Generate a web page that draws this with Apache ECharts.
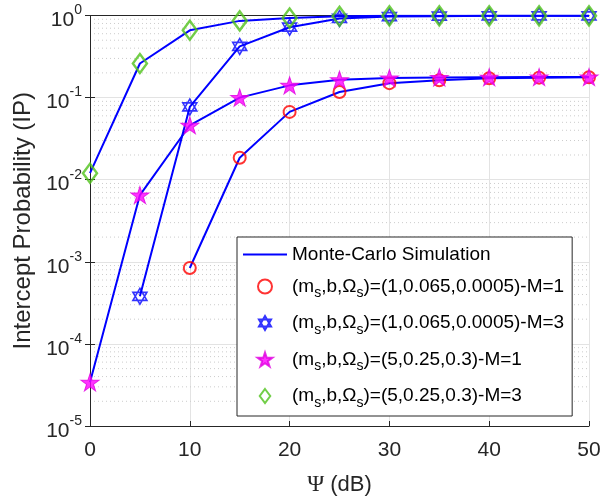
<!DOCTYPE html>
<html>
<head>
<meta charset="utf-8">
<script src="https://cdn.jsdelivr.net/npm/echarts@6/dist/echarts.min.js"></script>
<style>
  html, body { margin: 0; padding: 0; background: #fff; }
  #chart { width: 615px; height: 502px; }
</style>
</head>
<body>
<div id="chart"></div>
<script>
// x values (dB)
const psi = [0, 5, 10, 15, 20, 25, 30, 35, 40, 45, 50]

// intercept probability per case (null = not plotted)
const ipCircle = [null, null, 8.4e-4, 0.0185, 0.067, 0.117, 0.15, 0.163, 0.172, 0.175, 0.177]
const ipHexagram = [null, 3.8e-4, 0.077, 0.42, 0.72, 0.92, 0.97, 0.98, 0.99, 0.99, 0.99]
const ipStar = [3.4e-5, 6.5e-3, 0.046, 0.10, 0.141, 0.165, 0.173, 0.176, 0.177, 0.178, 0.178]
const ipDiamond = [0.012, 0.26, 0.66, 0.86, 0.93, 0.98, 0.99, 0.99, 0.99, 0.99, 0.99]

const simName = 'Monte-Carlo Simulation'
const caseNames = [
  '(m_s,b,Ω_s)=(1,0.065,0.0005)-M=1',
  '(m_s,b,Ω_s)=(1,0.065,0.0005)-M=3',
  '(m_s,b,Ω_s)=(5,0.25,0.3)-M=1',
  '(m_s,b,Ω_s)=(5,0.25,0.3)-M=3'
]

const font = 'Liberation Sans'
const axisColor = '#262626'

const hexagram = 'path://M0,-10L8.66,5L-8.66,5Z M0,10L8.66,-5L-8.66,-5Z'
const pentagram = 'path://M0,-10L2.245,-3.09L9.511,-3.09L3.633,1.18L5.878,8.09L0,3.82L-5.878,8.09L-3.633,1.18L-9.511,-3.09L-2.245,-3.09Z'
const diamond = 'path://M0,-10L7.5,0L0,10L-7.5,0Z'

const pairs = (ys) => psi.map((x, i) => [x, ys[i]])

// minor grid lines at 2..9 of every decade
const minorGrid = []
for (let e = -5; e < 0; e++) {
  for (let k = 2; k <= 9; k++) {
    minorGrid.push([0, k * Math.pow(10, e)])
  }
}

const simLine = (ys) => ({
  name: simName,
  type: 'line',
  data: pairs(ys),
  symbol: 'none',
  lineStyle: { color: '#0000ff', width: 2 },
  itemStyle: { color: '#0000ff' },
  z: 2
})

const marks = (name, ys, symbol, size, style) => ({
  name: name,
  type: 'scatter',
  data: pairs(ys),
  symbol: symbol,
  symbolSize: size,
  itemStyle: style,
  z: 3
})

const chart = echarts.init(document.getElementById('chart'))

chart.setOption({
  animation: false,
  backgroundColor: '#fff',
  grid: { left: 90, right: 26, top: 9, bottom: 76 },
  legend: {
    orient: 'vertical',
    left: 237,
    top: 237,
    data: [{ name: simName, icon: 'path://M0,0L44,0L44,2L0,2Z' }].concat(caseNames),
    itemWidth: 44,
    itemHeight: 14,
    itemGap: 13,
    padding: [8, 8, 6, 6],
    backgroundColor: '#fff',
    borderColor: '#262626',
    borderWidth: 1,
    formatter: (name) => name.replace(/_s/g, '{sub|s}'),
    textStyle: {
      fontFamily: font,
      fontSize: 19,
      color: '#000',
      rich: {
        sub: { fontFamily: font, fontSize: 14, padding: [14, 0, 0, 0], color: '#000' }
      }
    }
  },
  xAxis: [
    {
      type: 'value',
      min: 0,
      max: 50,
      interval: 10,
      name: '{psi|Ψ} (dB)',
      nameLocation: 'middle',
      nameGap: 47,
      nameTextStyle: {
        fontFamily: font,
        fontSize: 22,
        color: axisColor,
        rich: { psi: { fontFamily: 'Liberation Serif', fontSize: 23, color: axisColor } }
      },
      axisLine: { lineStyle: { color: axisColor, width: 1 } },
      axisTick: { inside: true, length: 5, lineStyle: { color: axisColor } },
      axisLabel: { fontFamily: font, fontSize: 21, color: axisColor, margin: 14 },
      splitLine: { show: true, lineStyle: { color: '#e3e3e3', width: 1 } }
    },
    {
      type: 'value',
      position: 'top',
      min: 0,
      max: 50,
      interval: 10,
      axisLine: { show: true, lineStyle: { color: axisColor, width: 1 } },
      axisTick: { show: false },
      axisLabel: { show: false },
      splitLine: { show: false }
    }
  ],
  yAxis: [
    {
      type: 'log',
      logBase: 10,
      min: 1e-5,
      max: 1,
      name: 'Intercept Probability (IP)',
      nameLocation: 'middle',
      nameGap: 54,
      nameTextStyle: { fontFamily: font, fontSize: 24, color: axisColor },
      axisLine: { show: true, lineStyle: { color: axisColor, width: 1 } },
      axisTick: { show: true, inside: true, length: 5, lineStyle: { color: axisColor } },
      axisLabel: {
        margin: 8,
        formatter: (v) => '{b|10}{sup|' + Math.round(Math.log10(v)) + '}',
        rich: {
          b: { fontFamily: font, fontSize: 21, color: axisColor, lineHeight: 21, padding: [10, 0, 0, 0] },
          sup: { fontFamily: font, fontSize: 14, color: axisColor, lineHeight: 14, padding: [0, 0, 10, 0] }
        }
      },
      splitLine: { show: true, lineStyle: { color: '#e3e3e3', width: 1 } }
    },
    {
      type: 'log',
      logBase: 10,
      min: 1e-5,
      max: 1,
      position: 'right',
      axisLine: { show: true, lineStyle: { color: axisColor, width: 1 } },
      axisTick: { show: true, inside: true, length: 5, lineStyle: { color: axisColor } },
      axisLabel: { show: false },
      splitLine: { show: false }
    }
  ],
  series: [
    {
      type: 'custom',
      silent: true,
      z: 0,
      data: minorGrid,
      encode: { x: 0, y: 1 },
      renderItem: (params, api) => {
        const v = api.value(1)
        const a = api.coord([0, v])
        const b = api.coord([50, v])
        return {
          type: 'line',
          shape: { x1: a[0], y1: a[1], x2: b[0], y2: b[1] },
          style: { stroke: '#cccccc', lineWidth: 1, lineDash: [1, 3] }
        }
      }
    },
    simLine(ipCircle),
    simLine(ipHexagram),
    simLine(ipStar),
    simLine(ipDiamond),
    marks(caseNames[0], ipCircle, 'circle', 12,
      { color: 'rgba(255,255,255,0)', borderColor: '#ff0000', borderWidth: 2 }),
    marks(caseNames[1], ipHexagram, hexagram, [14, 16],
      { color: 'rgba(255,255,255,0)', borderColor: '#0000ff', borderWidth: 1.6 }),
    marks(caseNames[2], ipStar, pentagram, [18, 17],
      { color: '#ff00ff', borderColor: '#e000e0', borderWidth: 1 }),
    marks(caseNames[3], ipDiamond, diamond, [14, 19],
      { color: 'rgba(255,255,255,0)', borderColor: '#4fc21a', borderWidth: 2.5 })
  ]
})

window.addEventListener('resize', () => {
  chart.resize()
})
</script>
</body>
</html>
